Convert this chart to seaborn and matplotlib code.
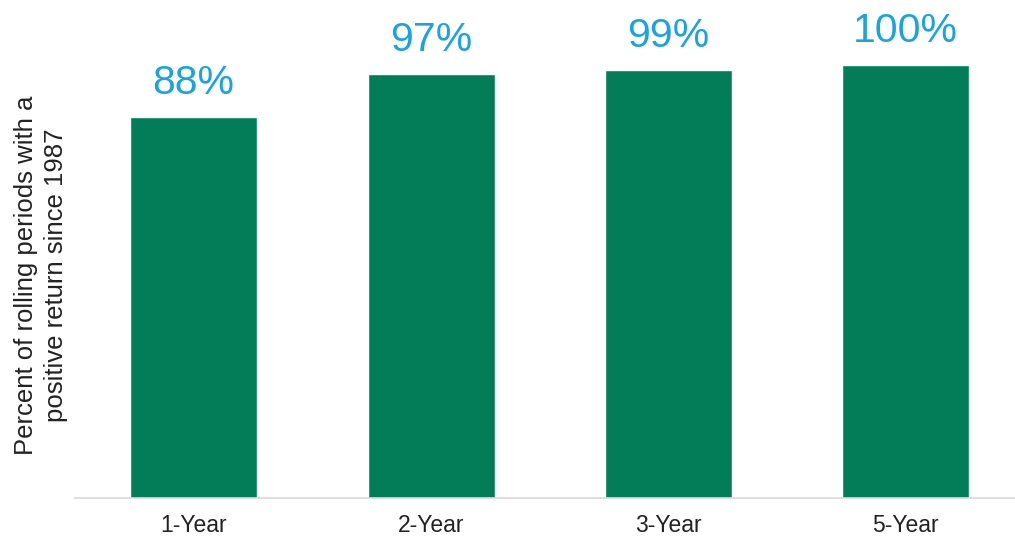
import matplotlib
matplotlib.use("Agg")
import matplotlib.pyplot as plt
import seaborn as sns
import pandas as pd

periods = ["1-Year", "2-Year", "3-Year", "5-Year"]
pct_positive = [88.0, 97.9, 98.9, 100.0]
value_labels = ["88%", "97%", "99%", "100%"]
ylabel_text = "Percent of rolling periods with a\npositive return since 1987"

bar_color = "#027D57"
label_color = "#1AA3E1"

sns.set_theme(style="white")
plt.rcParams["font.family"] = ["Liberation Sans", "DejaVu Sans"]

df = pd.DataFrame({"period": periods, "pct": pct_positive})

fig = plt.figure(figsize=(10.15, 5.37), dpi=100)
ax = fig.add_axes([75 / 1015, 39.5 / 537, 940 / 1015, 497.5 / 537])

sns.barplot(data=df, x="period", y="pct", color=bar_color, width=0.535,
            saturation=1, ax=ax)

ax.set_xlim(-0.5, 3.46)
ax.set_ylim(0, 115.0)

for patch, txt in zip(ax.patches, value_labels):
    ax.annotate(txt, (patch.get_x() + patch.get_width() / 2, patch.get_height()),
                xytext=(0, 16.5), textcoords="offset points",
                ha="center", va="baseline", fontsize=29.5, color=label_color)

for s in ["top", "right", "left"]:
    ax.spines[s].set_visible(False)
ax.spines["bottom"].set_color("#d9d9d9")
ax.spines["bottom"].set_linewidth(1.2)
ax.set_yticks([])
ax.set_xlabel("")
ax.set_ylabel("")
ax.tick_params(axis="x", length=0, pad=12, labelsize=16.5, labelcolor="#222222")

fig.text(0.0405, 0.488, ylabel_text, rotation=90, ha="center", va="center",
         multialignment="center", fontsize=18.5, color="#222222", linespacing=1.35)

fig.savefig("out.png", dpi=100)
